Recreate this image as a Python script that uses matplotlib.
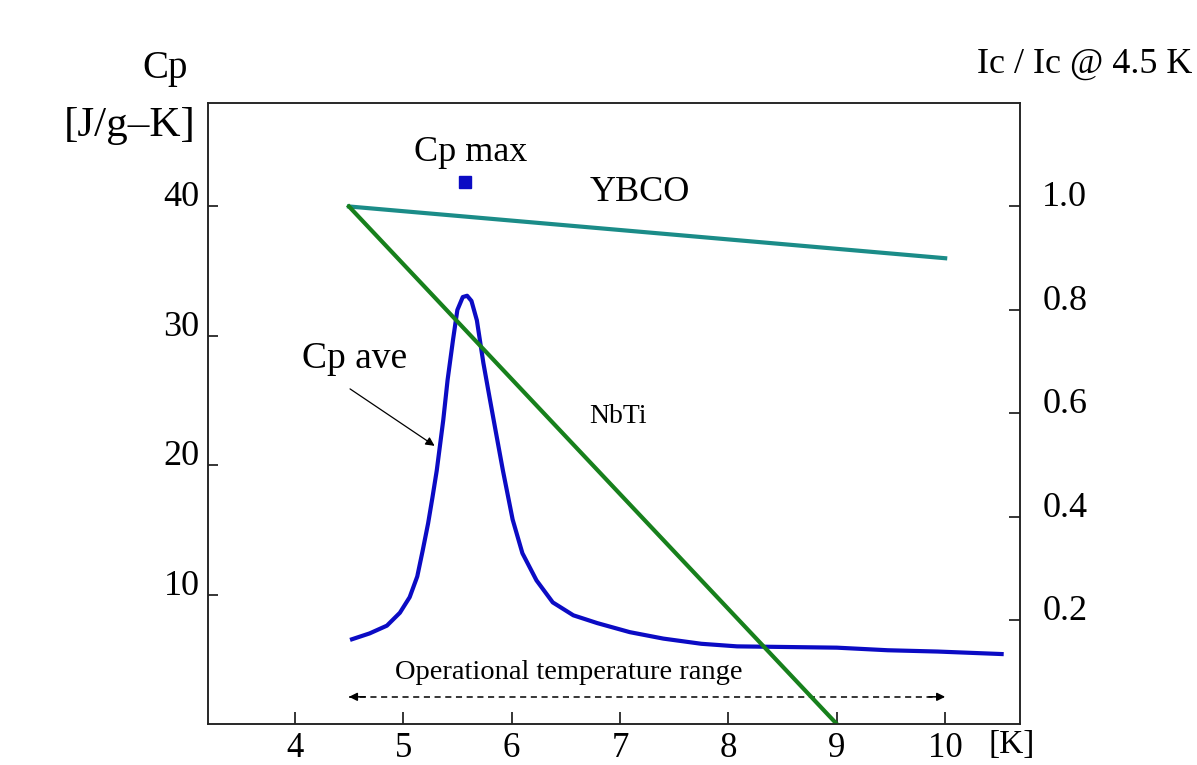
import matplotlib
matplotlib.use("Agg")
import matplotlib.pyplot as plt

# Cp average of the conductor vs temperature [K], [J/g-K]
temp_cp = [4.51, 4.69, 4.85, 4.97, 5.06, 5.13, 5.18, 5.23, 5.27, 5.31, 5.37, 5.41,
           5.46, 5.50, 5.55, 5.59, 5.63, 5.68, 5.74, 5.80, 5.85, 5.92, 6.01, 6.10,
           6.23, 6.38, 6.57, 6.79, 7.09, 7.40, 7.75, 8.08, 8.54, 9.00, 9.47, 9.93,
           10.54]
cp_ave = [6.5, 7.0, 7.6, 8.6, 9.8, 11.4, 13.4, 15.5, 17.5, 19.6, 23.5, 26.6,
          29.7, 32.0, 33.0, 33.1, 32.7, 31.2, 27.9, 25.1, 22.8, 19.6, 15.8, 13.2,
          11.1, 9.4, 8.4, 7.8, 7.1, 6.6, 6.2, 6.0, 5.95, 5.9, 5.7, 5.6,
          5.4]

cp_max_temp = 5.57
cp_max = 41.9

# normalised critical current Ic / Ic(4.5 K)
ybco_temp = [4.5, 10.0]
ybco_ic = [1.0, 0.90]
nbti_temp = [4.5, 9.0]
nbti_ic = [1.0, 0.0]

op_range = [4.5, 10.0]
op_level = 2.1

x_ticks = [4, 5, 6, 7, 8, 9, 10]
cp_ticks = [10, 20, 30, 40]
ic_ticks = [0.2, 0.4, 0.6, 0.8, 1.0]
ic_labels = ["0.2", "0.4", "0.6", "0.8", "1.0"]

plt.rcParams["font.family"] = ["Liberation Serif", "DejaVu Serif"]

blue = "#0b0bc4"
green = "#17801c"
teal = "#1b8c88"

fig = plt.figure(figsize=(11.97, 7.65), dpi=100)
ax = fig.add_axes([0.1738, 0.0536, 0.6783, 0.8118])
ax2 = ax.twinx()

ax.set_xlim(3.2, 10.69)
ax.set_ylim(0, 48)
ax2.set_ylim(0, 1.2)

ax.plot(temp_cp, cp_ave, color=blue, linewidth=3.0, solid_joinstyle="round",
        solid_capstyle="butt")
ax.plot([cp_max_temp], [cp_max], marker="s", markersize=9, color=blue, linestyle="none")

ax2.plot(ybco_temp, ybco_ic, color=teal, linewidth=3.0)
ax2.plot(nbti_temp, nbti_ic, color=green, linewidth=3.0)

# operational temperature range
ax.plot(op_range, [op_level, op_level], color="black", linewidth=1.1,
        linestyle=(0, (4, 3)))
ax.annotate("", xy=(op_range[0], op_level), xytext=(op_range[0] + 0.15, op_level),
            arrowprops=dict(arrowstyle="-|>", color="black", lw=1.1, mutation_scale=12,
                            shrinkA=0, shrinkB=0))
ax.annotate("", xy=(op_range[1], op_level), xytext=(op_range[1] - 0.15, op_level),
            arrowprops=dict(arrowstyle="-|>", color="black", lw=1.1, mutation_scale=12,
                            shrinkA=0, shrinkB=0))

ax.annotate("", xy=(5.29, 21.5), xytext=(4.51, 25.9),
            arrowprops=dict(arrowstyle="-|>", color="black", lw=0.9, mutation_scale=13,
                            shrinkA=0, shrinkB=0))

ax.text(5.62, 44.2, "Cp max", fontsize=26, ha="center", va="center")
ax.text(7.18, 41.1, "YBCO", fontsize=26, ha="center", va="center")
ax.text(4.55, 28.2, "Cp ave", fontsize=27, ha="center", va="center")
ax.text(6.98, 23.8, "NbTi", fontsize=20, ha="center", va="center")
ax.text(6.53, 4.0, "Operational temperature range", fontsize=20.5, ha="center", va="center")

fig.text(0.1378, 0.911, "Cp", fontsize=28, ha="center", va="center")
fig.text(0.1086, 0.835, "[J/g\u2013K]", fontsize=31, ha="center", va="center")
fig.text(0.9064, 0.916, "Ic / Ic @ 4.5 K", fontsize=26, ha="center", va="center")
fig.text(0.8454, 0.026, "[K]", fontsize=24, ha="center", va="center")

for spine in list(ax.spines.values()) + list(ax2.spines.values()):
    spine.set_linewidth(1.1)
    spine.set_color("#222222")

ax.set_xticks(x_ticks)
ax.set_yticks(cp_ticks)
ax2.set_yticks(ic_ticks, ic_labels)

ax.tick_params(axis="x", direction="in", length=8.5, width=1.1, labelsize=25, pad=6,
               top=False)
ax.tick_params(axis="y", direction="in", length=7, width=1.1, labelsize=26, pad=6,
               right=False)
ax2.tick_params(axis="y", direction="in", length=8, width=1.1, labelsize=26, pad=16,
                left=False)
for lbl in ax.get_yticklabels() + ax2.get_yticklabels():
    lbl.set_verticalalignment("baseline")

fig.savefig("out.png", dpi=100)
